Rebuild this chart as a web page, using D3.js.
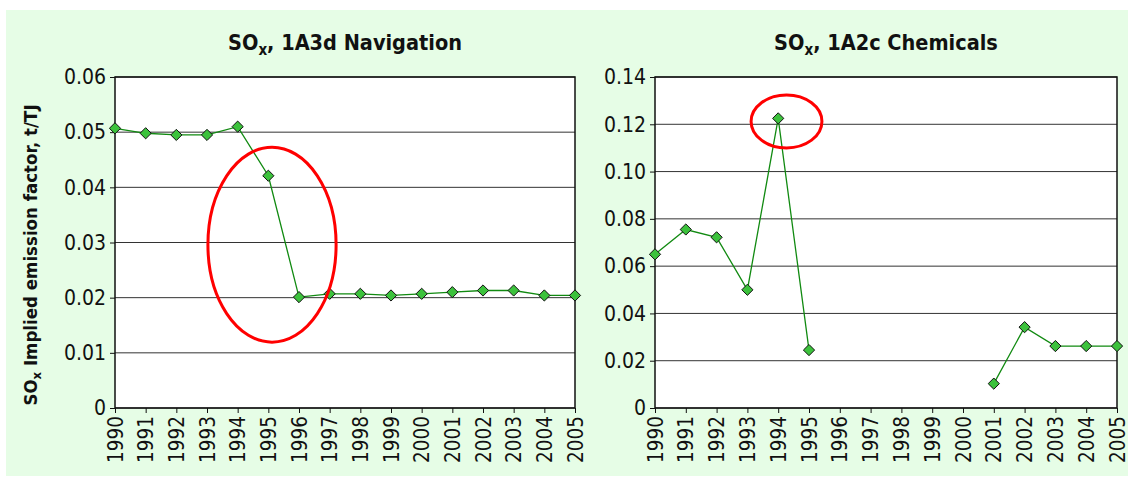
<!DOCTYPE html>
<html>
<head>
<meta charset="utf-8">
<script src="https://cdn.jsdelivr.net/npm/d3@7"></script>
<style>
  body { margin: 0; background: #ffffff; }
  text { font-family: "DejaVu Sans Condensed", "DejaVu Sans", sans-serif; fill: #111; }
</style>
</head>
<body>
<div id="chart"></div>
<script>
// Data
var years = [1990, 1991, 1992, 1993, 1994, 1995, 1996, 1997, 1998, 1999, 2000, 2001, 2002, 2003, 2004, 2005];
var navigationValues = [0.0507, 0.0498, 0.0495, 0.0495, 0.0510, 0.0421, 0.0201, 0.0207, 0.0207, 0.0204, 0.0207, 0.0210, 0.0213, 0.0213, 0.0204, 0.0204];
var chemicalsValues = [0.0650, 0.0755, 0.0722, 0.0500, 0.1225, 0.0245, null, null, null, null, null, 0.0103, 0.0342, 0.0262, 0.0262, 0.0262];
var navigationTicks = [0, 0.01, 0.02, 0.03, 0.04, 0.05, 0.06];
var chemicalsTicks = [0, 0.02, 0.04, 0.06, 0.08, 0.10, 0.12, 0.14];
// highlight ellipses: [year centre, value centre, year radius, value radius]
var navigationCircle = [1995.12, 0.0296, 2.09, 0.01766];
var chemicalsCircle = [1994.27, 0.1212, 1.15, 0.0112];

var svgWidth = 1129;
var svgHeight = 477;
var fontFam = "'DejaVu Sans Condensed', 'DejaVu Sans', sans-serif";

var svg = d3.select("#chart")
  .append("svg")
  .attr("width", svgWidth)
  .attr("height", svgHeight);

// light green panel behind both charts
svg.append("rect")
  .attr("x", 6)
  .attr("y", 10)
  .attr("width", 1122)
  .attr("height", 466)
  .attr("fill", "#e6fde6");

// y-axis label (only on the left chart)
var yLabel = svg.append("text")
  .attr("transform", "translate(37, 255) rotate(-90)")
  .attr("text-anchor", "middle")
  .style("font-size", "18.5px")
  .style("font-weight", "bold");
yLabel.append("tspan").text("SO");
yLabel.append("tspan").attr("dy", 4).style("font-size", "13px").text("x");
yLabel.append("tspan").attr("dy", -4).text(" Implied emission factor, t/TJ");

function drawChart(opts) {
  var left = opts.left, right = opts.right, top = 77, bottom = 408;

  var x = d3.scaleLinear().domain([1990, 2005]).range([left, right]);
  var y = d3.scaleLinear().domain([0, opts.max]).range([bottom, top]);

  var g = svg.append("g");

  // plot area
  g.append("rect")
    .attr("x", left)
    .attr("y", top)
    .attr("width", right - left)
    .attr("height", bottom - top)
    .attr("fill", "#ffffff");

  // gridlines
  g.selectAll(".grid")
    .data(opts.ticks)
    .enter()
    .append("line")
    .attr("x1", left)
    .attr("x2", right)
    .attr("y1", d => y(d))
    .attr("y2", d => y(d))
    .attr("stroke", "#333")
    .attr("stroke-width", 1);

  g.append("rect")
    .attr("x", left)
    .attr("y", top)
    .attr("width", right - left)
    .attr("height", bottom - top)
    .attr("fill", "none")
    .attr("stroke", "#111")
    .attr("stroke-width", 1.5);

  // axes
  var leftAxis = d3.axisLeft(y)
    .tickValues(opts.ticks)
    .tickFormat(opts.format)
    .tickSize(5)
    .tickPadding(4);
  var yAxis = g.append("g")
    .attr("transform", "translate(" + left + ",0)")
    .call(leftAxis);
  yAxis.select(".domain").remove();
  yAxis.selectAll("line").attr("stroke", "#111");
  yAxis.selectAll("text").style("font-size", "21px").style("font-family", fontFam).attr("fill", "#111");

  var bottomAxis = d3.axisBottom(x)
    .tickValues(years)
    .tickFormat(d3.format("d"))
    .tickSize(5);
  var xAxis = g.append("g")
    .attr("transform", "translate(0," + bottom + ")")
    .call(bottomAxis);
  xAxis.select(".domain").remove();
  xAxis.selectAll("line").attr("stroke", "#111");
  xAxis.selectAll("text")
    .attr("transform", "rotate(-90)")
    .attr("x", -8)
    .attr("y", 0)
    .attr("dy", "0.35em")
    .attr("fill", "#111")
    .style("text-anchor", "end")
    .style("font-size", "20.5px")
    .style("font-family", fontFam);

  // title
  var title = g.append("text")
    .attr("x", (left + right) / 2)
    .attr("y", 50)
    .attr("text-anchor", "middle")
    .style("font-size", "21.5px")
    .style("font-weight", "bold");
  title.append("tspan").text("SO");
  title.append("tspan").attr("dy", 5).style("font-size", "15px").text("x");
  title.append("tspan").attr("dy", -5).text(", " + opts.title);

  // line with gaps for missing years
  var pts = years.map((yr, i) => ({ year: yr, value: opts.values[i] }));
  var drawLine = d3.line()
    .defined(d => d.value !== null)
    .x(d => x(d.year))
    .y(d => y(d.value));

  g.append("path")
    .attr("d", drawLine(pts))
    .attr("fill", "none")
    .attr("stroke", "#118a11")
    .attr("stroke-width", 1.3);

  g.selectAll(".marker")
    .data(pts.filter(d => d.value !== null))
    .enter()
    .append("path")
    .attr("d", d3.symbol().type(d3.symbolDiamond2).size(80))
    .attr("transform", d => "translate(" + x(d.year) + "," + y(d.value) + ")")
    .attr("fill", "#3cc23c")
    .attr("stroke", "#111")
    .attr("stroke-width", 1);

  // red highlight ellipse
  var c = opts.circle;
  g.append("ellipse")
    .attr("cx", x(c[0]))
    .attr("cy", y(c[1]))
    .attr("rx", x(c[0] + c[2]) - x(c[0]))
    .attr("ry", y(0) - y(c[3]))
    .attr("fill", "none")
    .attr("stroke", "#ff0000")
    .attr("stroke-width", 3);
}

drawChart({
  left: 115, right: 575, max: 0.06,
  ticks: navigationTicks,
  format: d => d === 0 ? "0" : d3.format(".2f")(d),
  values: navigationValues,
  title: "1A3d Navigation",
  circle: navigationCircle
});

drawChart({
  left: 655, right: 1117, max: 0.14,
  ticks: chemicalsTicks,
  format: d => d === 0 ? "0" : d3.format(".2f")(d),
  values: chemicalsValues,
  title: "1A2c Chemicals",
  circle: chemicalsCircle
});
</script>
</body>
</html>
